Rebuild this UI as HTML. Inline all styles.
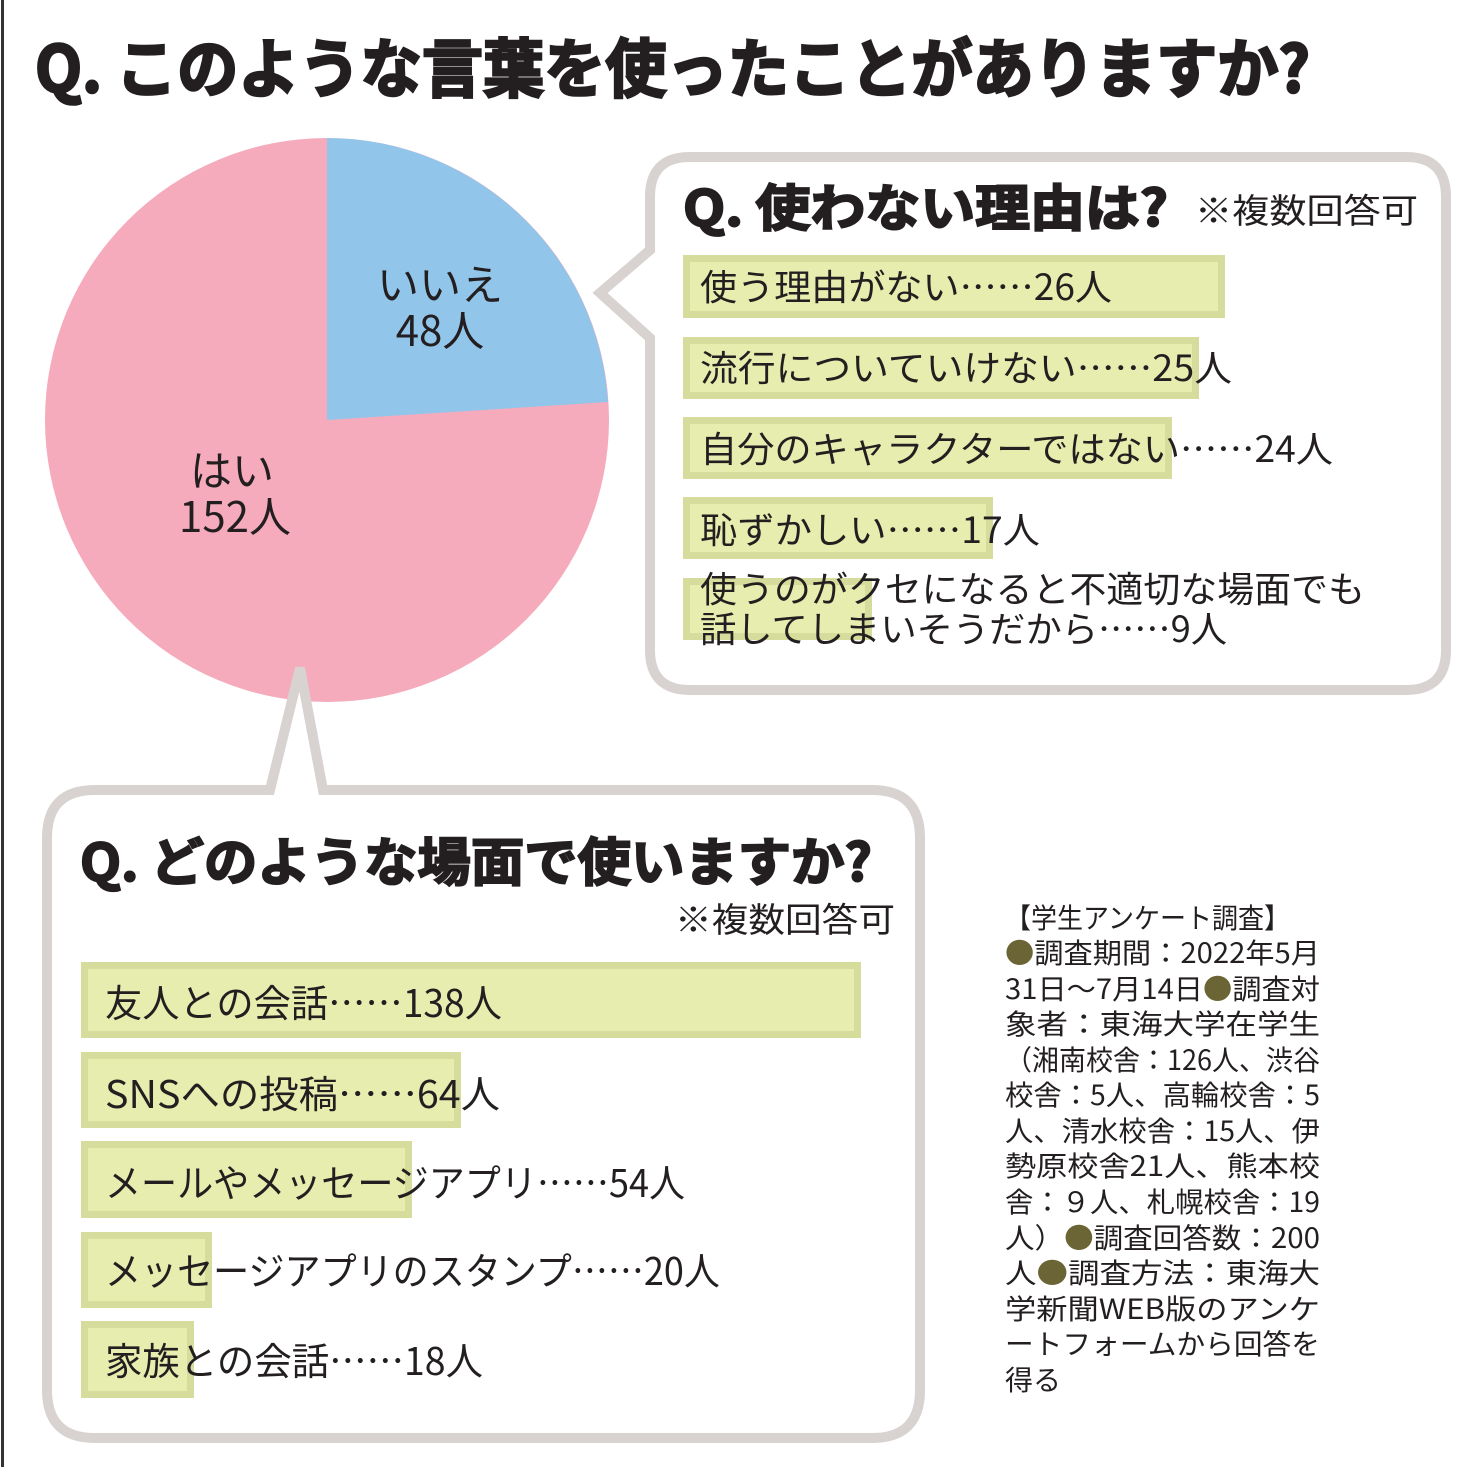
<!DOCTYPE html>
<html><head><meta charset="utf-8"><style>
html,body{margin:0;padding:0;background:#fff}
svg{display:block}
text{font-family:"Noto Sans CJK JP","Liberation Sans",sans-serif;fill:#231f20}
.b{font-weight:bold}
.d{font-family:"Noto Sans CJK JP",sans-serif;fill:#6b6434}
</style></head><body>
<svg width="1472" height="1467" viewBox="0 0 1472 1467" xmlns="http://www.w3.org/2000/svg">
<rect x="1" y="0" width="3" height="1467" fill="#333"/>
<text x="35" y="92" font-size="64" class="b" font-weight="900" stroke="#231f20" stroke-width="2.5" textLength="1275" lengthAdjust="spacingAndGlyphs">Q. このような言葉を使ったことがありますか?</text>

<!-- pie -->
<circle cx="327" cy="420" r="282" fill="#f5abbc"/>
<path d="M327,420 L327,138 A282,282 0 0 1 608,402 Z" fill="#92c5ea"/>
<text x="440" y="300" font-size="42" text-anchor="middle">いいえ</text>
<text x="440" y="346" font-size="42" text-anchor="middle">48人</text>
<text x="232" y="486" font-size="42" text-anchor="middle">はい</text>
<text x="235" y="532" font-size="42" text-anchor="middle">152人</text>

<!-- right bubble -->
<path d="M690,157 H1406 Q1446,157 1446,197 V650 Q1446,690 1406,690 H690 Q650,690 650,650 V338 L600,293 L650,250 V197 Q650,157 690,157 Z" fill="#fff" stroke="#d8d2d0" stroke-width="10"/>
<text x="683" y="226" font-size="50" class="b" font-weight="900" stroke="#231f20" stroke-width="2" textLength="485" lengthAdjust="spacingAndGlyphs">Q. 使わない理由は?</text>
<text x="1195" y="223" font-size="34" textLength="223" lengthAdjust="spacingAndGlyphs">※複数回答可</text>
<g fill="#e6edae" stroke="#d5dc9c" stroke-width="7">
<rect x="686.5" y="258.5" width="535" height="56"/>
<rect x="686.5" y="340.5" width="509" height="55"/>
<rect x="686.5" y="420.5" width="482" height="55"/>
<rect x="686.5" y="500.5" width="303" height="55"/>
<rect x="686.5" y="581.5" width="182" height="55"/>
</g>
<g font-size="36">
<text x="700" y="300" textLength="412" lengthAdjust="spacingAndGlyphs">使う理由がない……26人</text>
<text x="700" y="381" textLength="532" lengthAdjust="spacingAndGlyphs">流行についていけない……25人</text>
<text x="700" y="462" textLength="633" lengthAdjust="spacingAndGlyphs">自分のキャラクターではない……24人</text>
<text x="700" y="543" textLength="340" lengthAdjust="spacingAndGlyphs">恥ずかしい……17人</text>
<text x="700" y="602" textLength="665" lengthAdjust="spacingAndGlyphs">使うのがクセになると不適切な場面でも</text>
<text x="700" y="642" textLength="527" lengthAdjust="spacingAndGlyphs">話してしまいそうだから……9人</text>
</g>

<!-- bottom bubble -->
<path d="M95,790 H270 L300,668 L323,790 H872 Q920,790 920,838 V1390 Q920,1438 872,1438 H95 Q47,1438 47,1390 V838 Q47,790 95,790 Z" fill="#fff" stroke="#d8d2d0" stroke-width="10"/>
<text x="80" y="881" font-size="52" class="b" font-weight="900" stroke="#231f20" stroke-width="2" textLength="792" lengthAdjust="spacingAndGlyphs">Q. どのような場面で使いますか?</text>
<text x="675" y="932" font-size="34" textLength="220" lengthAdjust="spacingAndGlyphs">※複数回答可</text>
<g fill="#e6edae" stroke="#d5dc9c" stroke-width="7">
<rect x="84.5" y="965.5" width="773" height="69"/>
<rect x="84.5" y="1055.5" width="373" height="69"/>
<rect x="84.5" y="1144.5" width="324" height="70"/>
<rect x="84.5" y="1235.5" width="124" height="69"/>
<rect x="84.5" y="1324.5" width="106" height="70"/>
</g>
<g font-size="38">
<text x="105" y="1017" textLength="397" lengthAdjust="spacingAndGlyphs">友人との会話……138人</text>
<text x="105" y="1108" textLength="395" lengthAdjust="spacingAndGlyphs">SNSへの投稿……64人</text>
<text x="105" y="1197" textLength="580" lengthAdjust="spacingAndGlyphs">メールやメッセージアプリ……54人</text>
<text x="105" y="1285" textLength="615" lengthAdjust="spacingAndGlyphs">メッセージアプリのスタンプ……20人</text>
<text x="105" y="1375" textLength="378" lengthAdjust="spacingAndGlyphs">家族との会話……18人</text>
</g>

<!-- notes -->
<g font-size="28">
<text x="1005" y="928" textLength="285" lengthAdjust="spacingAndGlyphs">【学生アンケート調査】</text>
<text x="1005" y="963" textLength="315" lengthAdjust="spacingAndGlyphs"><tspan class="d">●</tspan>調査期間：2022年5月</text>
<text x="1005" y="999" textLength="315" lengthAdjust="spacingAndGlyphs">31日〜7月14日<tspan class="d">●</tspan>調査対</text>
<text x="1005" y="1034" textLength="315" lengthAdjust="spacingAndGlyphs">象者：東海大学在学生</text>
<text x="1005" y="1070" textLength="315" lengthAdjust="spacingAndGlyphs">（湘南校舎：126人、渋谷</text>
<text x="1005" y="1105" textLength="315" lengthAdjust="spacingAndGlyphs">校舎：5人、高輪校舎：5</text>
<text x="1005" y="1141" textLength="315" lengthAdjust="spacingAndGlyphs">人、清水校舎：15人、伊</text>
<text x="1005" y="1176" textLength="315" lengthAdjust="spacingAndGlyphs">勢原校舎21人、熊本校</text>
<text x="1005" y="1212" textLength="315" lengthAdjust="spacingAndGlyphs">舎：９人、札幌校舎：19</text>
<text x="1005" y="1248" textLength="315" lengthAdjust="spacingAndGlyphs">人）<tspan class="d">●</tspan>調査回答数：200</text>
<text x="1005" y="1283" textLength="315" lengthAdjust="spacingAndGlyphs">人<tspan class="d">●</tspan>調査方法：東海大</text>
<text x="1005" y="1319" textLength="315" lengthAdjust="spacingAndGlyphs">学新聞WEB版のアンケ</text>
<text x="1005" y="1354" textLength="315" lengthAdjust="spacingAndGlyphs">ートフォームから回答を</text>
<text x="1005" y="1390">得る</text>
</g>
</svg>
</body></html>
